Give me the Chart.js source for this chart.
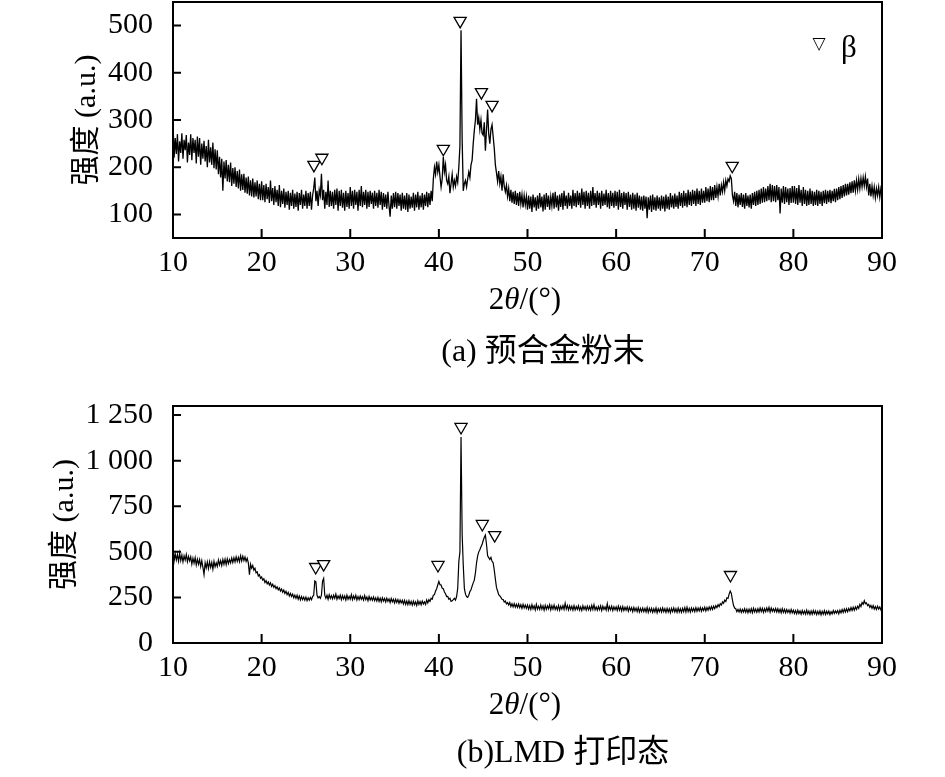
<!DOCTYPE html>
<html>
<head>
<meta charset="utf-8">
<script src="https://cdn.jsdelivr.net/npm/chart.js@4.4.1/dist/chart.umd.min.js"></script>
<style>
  body { margin: 0; background: #fff; }
  #wrap { position: relative; width: 945px; height: 777px; overflow: hidden; color: #000;
          font-family: 'Liberation Serif', 'Noto Sans CJK SC', serif; }
  canvas { position: absolute; left: 0; }
  .lbl { position: absolute; white-space: nowrap; transform: translate(-50%, -50%); line-height: 1; }
</style>
</head>
<body>
<div id="wrap">
  <canvas id="chartA" width="945" height="282" style="top:0"></canvas>
  <canvas id="chartB" width="945" height="300" style="top:390px"></canvas>

  <div class="lbl" style="left:525px; top:298px; font-size:31px">2<i>θ</i>/(°)</div>
  <div class="lbl" style="left:543px; top:350px; font-size:32px">(a) 预合金粉末</div>
  <div class="lbl" style="left:525px; top:703px; font-size:31px">2<i>θ</i>/(°)</div>
  <div class="lbl" style="left:563px; top:751px; font-size:32px">(b)LMD 打印态</div>

  <div class="lbl" style="left:819px; top:43px; font-size:17px; font-family:'DejaVu Sans'">▽</div>
  <div class="lbl" style="left:849px; top:46px; font-size:31px">β</div>
</div>

<script>
// 2θ sampling, read every 0.125° from 10° to 90°
const twoTheta = Array.from({ length: 641 }, (_, i) => 10 + i * 0.125);
const xTicks = [10, 20, 30, 40, 50, 60, 70, 80, 90];

// (a) pre-alloyed powder, one row = 5 degrees
const intensityPowder = [
  298,220,262,228,270,212,255,230,272,218,258,236,268,210,252,226,270,215,262,230,258,208,265,222,262,205,250,218,256,212,245,200,258,210,242,205,252,198,238,195,
  236,185,222,178,218,150,212,176,215,170,205,168,210,160,198,165,200,158,192,155,195,150,185,152,186,146,178,144,180,140,172,138,176,136,168,138,172,132,165,130,
  170,130,162,126,165,132,158,124,172,128,156,120,160,126,152,118,162,115,150,122,155,114,148,120,150,110,146,118,152,112,144,116,148,108,145,120,152,112,142,118,
  150,112,145,118,148,110,140,155,178,128,150,118,152,140,186,130,152,112,148,120,172,116,150,118,148,112,152,120,155,108,150,118,152,114,146,108,150,116,145,112,
  158,118,150,112,152,120,148,108,152,118,160,115,148,120,152,112,148,116,150,122,146,112,150,118,146,114,152,120,148,110,145,116,142,112,148,118,95,140,112,145,
  115,148,112,145,118,142,108,146,112,140,110,145,105,142,112,138,114,146,108,142,115,148,110,140,115,145,110,142,118,148,115,145,120,150,128,175,200,185,212,190,
  205,180,158,175,222,190,205,172,165,180,145,165,185,158,172,160,180,168,200,245,490,260,150,165,172,158,175,190,178,205,215,250,278,300,345,290,305,280,300,272,
  268,295,235,280,322,270,250,280,290,265,240,205,188,170,192,165,180,150,185,160,148,162,138,155,128,152,125,148,122,150,120,145,118,148,122,142,115,140,120,138,
  110,140,112,138,105,142,115,136,108,140,112,145,115,138,106,142,110,145,116,140,110,138,118,146,112,148,115,140,108,142,116,145,110,150,118,140,112,146,118,140,
  112,152,118,145,115,150,120,146,114,155,120,148,112,150,118,146,112,150,118,158,120,145,114,150,120,146,112,150,118,144,120,152,115,145,112,150,118,146,114,150,
  118,148,110,152,116,145,112,148,120,145,110,148,116,142,110,146,112,142,108,146,114,140,110,138,108,140,112,138,92,136,110,140,105,142,110,136,108,140,112,136,
  108,140,112,138,106,142,112,138,110,145,115,140,112,144,116,140,112,148,118,145,114,150,118,145,115,152,120,148,118,152,122,150,118,155,122,150,120,155,125,150,
  125,158,128,155,126,160,130,158,130,162,135,158,138,165,140,162,148,168,150,172,160,175,170,182,176,140,128,148,118,145,115,142,120,145,116,142,112,145,118,140,
  115,142,112,145,120,148,118,150,120,152,122,155,125,158,126,155,128,160,130,165,126,162,128,160,126,162,130,158,102,155,125,160,122,158,126,155,120,156,124,160,
  125,160,122,156,120,162,125,152,118,158,122,152,118,150,120,155,122,150,118,148,120,152,118,150,122,148,118,150,124,152,122,150,126,152,124,150,128,154,126,155,
  130,158,132,160,135,162,138,165,140,165,142,168,145,170,146,172,150,172,152,175,155,176,158,178,160,180,158,176,140,165,138,160,140,158,135,155,140,158,136,155,
  145
];
const peaksPowderX = [25.9, 26.8, 40.5, 42.4, 44.8, 46.0, 73.1];
const peaksPowderY = [205, 220, 239, 510, 359, 332, 203];
const yTicksPowder = [100, 200, 300, 400, 500];

// (b) LMD as-printed, one row = 5 degrees
const intensityLMD = [
  528,450,490,455,485,448,492,452,482,445,478,455,486,446,475,450,472,432,465,438,468,428,460,432,458,420,452,415,375,440,412,445,408,446,415,442,405,448,418,440,
  420,455,428,452,425,458,432,460,430,462,436,458,440,466,442,468,445,472,448,470,446,478,450,476,452,472,448,465,440,375,432,410,425,400,410,385,390,368,375,355,
  362,345,352,332,342,325,335,318,330,310,322,305,315,298,308,292,302,285,296,278,290,272,284,265,278,258,272,255,268,248,262,245,262,240,258,236,255,238,252,235,
  252,232,248,235,250,238,255,262,340,335,262,248,255,245,262,340,355,262,245,262,240,265,245,260,242,262,245,268,240,258,244,262,238,260,242,258,236,262,240,256,
  240,265,238,258,242,262,236,255,238,258,240,254,235,260,238,252,232,255,236,250,234,252,232,248,230,250,228,246,226,248,230,244,225,246,228,242,222,244,226,240,
  220,240,222,238,218,236,220,234,214,234,212,230,210,232,212,228,208,230,210,226,206,232,212,228,210,230,214,226,212,236,220,238,228,245,240,262,265,285,298,318,
  338,320,318,300,298,280,270,255,256,240,245,228,232,238,245,235,255,300,445,500,1130,600,430,300,268,255,250,262,282,292,312,330,345,385,440,478,500,512,528,540,
  562,580,592,540,478,468,458,470,448,440,400,350,305,285,265,258,250,240,238,225,230,215,222,208,222,200,215,198,216,196,212,195,214,194,210,190,212,192,208,190,
  208,186,205,184,210,188,204,182,212,186,202,184,208,186,204,180,206,184,204,188,210,182,205,186,208,184,200,182,206,180,202,186,205,184,218,186,206,182,204,184,
  202,180,205,182,200,184,204,180,198,178,204,184,200,180,202,182,200,180,206,184,210,182,198,180,200,182,204,178,202,184,198,180,215,180,200,182,202,178,198,182,
  198,178,202,180,198,176,200,178,196,180,198,174,196,178,194,172,195,176,192,172,194,170,190,172,192,172,190,170,194,168,190,172,190,168,188,170,192,166,188,172,
  190,170,192,172,188,168,190,170,188,166,190,172,192,170,188,168,192,170,188,168,190,172,194,170,196,172,190,170,192,174,190,172,194,174,192,176,195,174,192,178,
  196,176,195,180,198,182,200,184,202,188,205,194,210,200,216,208,225,218,235,228,248,245,268,285,272,235,205,192,188,172,184,170,186,168,184,170,188,168,186,166,
  186,168,188,166,190,170,186,168,188,170,192,172,190,168,188,172,192,174,195,170,192,174,188,172,190,170,188,168,186,166,188,168,185,166,184,168,182,164,184,166,
  180,162,178,160,180,162,176,158,178,160,176,158,180,160,175,156,176,158,178,160,176,156,174,158,176,154,174,158,178,156,174,160,175,156,172,160,178,162,176,164,
  178,160,180,166,184,168,186,170,188,172,190,176,194,178,196,180,198,184,202,190,212,200,222,212,232,215,220,205,212,196,206,190,205,186,200,184,202,186,198,182,
  192
];
const peaksLMDX = [26.1, 27.0, 39.9, 42.5, 44.9, 46.3, 72.9];
const peaksLMDY = [417, 433, 428, 1185, 653, 592, 373];
const yTicksLMD = [0, 250, 500, 750, 1000, 1250];

const serif = "'Liberation Serif', 'Noto Sans CJK SC', serif";

// box around the plot plus inward tick marks
const framePlugin = {
  id: 'frame',
  afterDatasetsDraw(chart) {
    const { ctx, chartArea: a, scales: { x, y } } = chart;
    ctx.save();
    ctx.strokeStyle = '#000';
    ctx.lineWidth = 2;
    ctx.strokeRect(a.left, a.top, a.right - a.left, a.bottom - a.top);
    ctx.beginPath();
    x.ticks.forEach(t => {
      const px = x.getPixelForValue(t.value);
      ctx.moveTo(px, a.bottom);
      ctx.lineTo(px, a.bottom - 9);
    });
    y.ticks.forEach(t => {
      const py = y.getPixelForValue(t.value);
      ctx.moveTo(a.left, py);
      ctx.lineTo(a.left + 8, py);
    });
    ctx.stroke();
    ctx.restore();
  }
};

function formatThousands(v) {
  return v >= 1000 ? Math.floor(v / 1000) + ' ' + String(v % 1000).padStart(3, '0') : String(v);
}

function makeChart(id, values, peaksX, peaksY, yMin, yMax, yTicks, opts) {
  const ctx = document.getElementById(id).getContext('2d');
  return new Chart(ctx, {
    type: 'line',
    data: {
      datasets: [{
        data: twoTheta.map((t, i) => ({ x: t, y: values[i] })),
        borderColor: '#000',
        borderWidth: opts.lineWidth,
        pointRadius: 0,
        tension: 0
      }, {
        type: 'scatter',
        data: peaksX.map((t, i) => ({ x: t, y: peaksY[i] })),
        pointStyle: 'triangle',
        rotation: 180,
        pointRadius: 7,
        backgroundColor: '#fff',
        borderColor: '#000',
        borderWidth: 1.3
      }]
    },
    options: {
      responsive: false,
      animation: false,
      layout: { autoPadding: false, padding: { top: opts.top, right: 63, bottom: 0, left: 0 } },
      plugins: { legend: { display: false }, tooltip: { enabled: false } },
      scales: {
        x: {
          type: 'linear',
          min: 10,
          max: 90,
          afterBuildTicks: s => { s.ticks = xTicks.map(v => ({ value: v })); },
          afterFit: s => { s.height = opts.xHeight; s.paddingLeft = 0; s.paddingRight = 0; },
          grid: { display: false },
          border: { display: false },
          ticks: { color: '#000', font: { family: serif, size: 30 }, padding: -1, maxRotation: 0, autoSkip: false }
        },
        y: {
          min: yMin,
          max: yMax,
          afterBuildTicks: s => { s.ticks = yTicks.map(v => ({ value: v })); },
          afterFit: s => { s.width = 173; s.paddingTop = 0; s.paddingBottom = 0; },
          grid: { display: false },
          border: { display: false },
          ticks: { color: '#000', font: { family: serif, size: 30 }, padding: 12, callback: v => formatThousands(v) },
          title: {
            display: true,
            text: '强度 (a.u.)',
            color: '#000',
            font: { family: serif, size: 30 },
            padding: { top: opts.titlePad, bottom: 0 }
          }
        }
      }
    },
    plugins: [framePlugin]
  });
}

makeChart('chartA', intensityPowder, peaksPowderX, peaksPowderY, 50, 550, yTicksPowder,
  { top: 2, xHeight: 44, titlePad: 69, lineWidth: 1.3 });
makeChart('chartB', intensityLMD, peaksLMDX, peaksLMDY, 0, 1300, yTicksLMD,
  { top: 16, xHeight: 47, titlePad: 47, lineWidth: 1.2 });
</script>
</body>
</html>
